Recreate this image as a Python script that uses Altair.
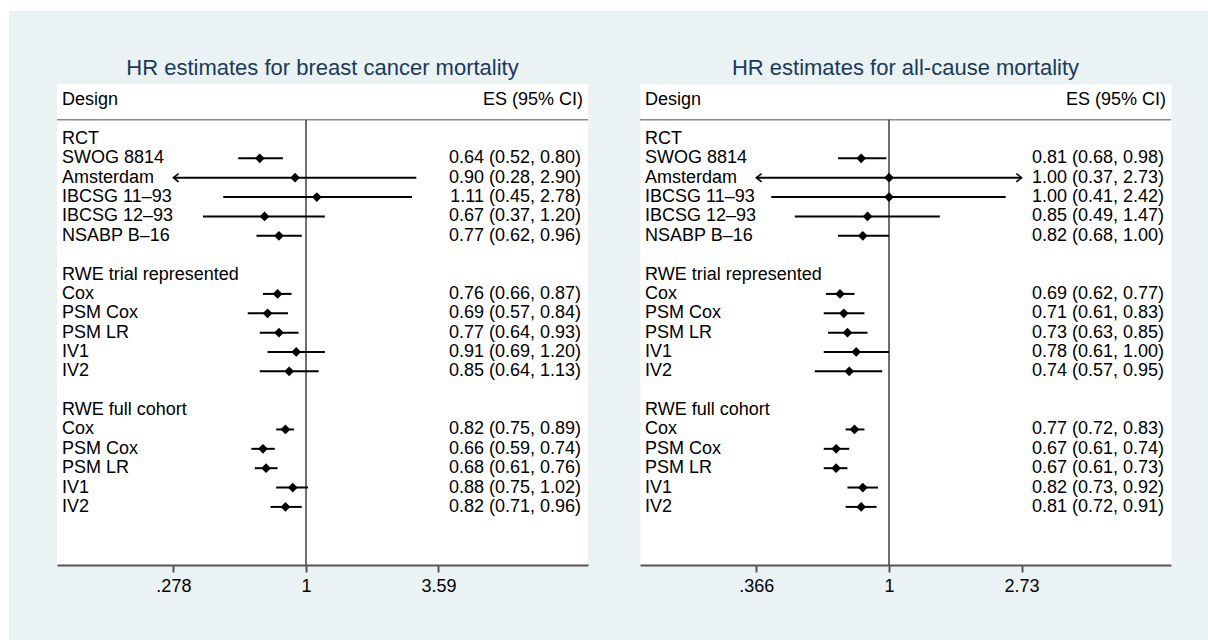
import altair as alt
import pandas as pd

# Row structure shared by both panels
groups = ["RCT", "RWE trial represented", "RWE full cohort"]
rct_names = ["SWOG 8814", "Amsterdam", "IBCSG 11–93", "IBCSG 12–93", "NSABP B–16"]
rwe_names = ["Cox", "PSM Cox", "PSM LR", "IV1", "IV2"]

# Breast cancer mortality: hazard ratios with 95% CI
bc_es = [0.64, 0.90, 1.11, 0.67, 0.77, 0.76, 0.69, 0.77, 0.91, 0.85, 0.82, 0.66, 0.68, 0.88, 0.82]
bc_lo = [0.52, 0.28, 0.45, 0.37, 0.62, 0.66, 0.57, 0.64, 0.69, 0.64, 0.75, 0.59, 0.61, 0.75, 0.71]
bc_hi = [0.80, 2.90, 2.78, 1.20, 0.96, 0.87, 0.84, 0.93, 1.20, 1.13, 0.89, 0.74, 0.76, 1.02, 0.96]
bc_ticks = [0.278, 1, 3.59]
bc_tick_text = [".278", "1", "3.59"]

# All-cause mortality: hazard ratios with 95% CI
ac_es = [0.81, 1.00, 1.00, 0.85, 0.82, 0.69, 0.71, 0.73, 0.78, 0.74, 0.77, 0.67, 0.67, 0.82, 0.81]
ac_lo = [0.68, 0.37, 0.41, 0.49, 0.68, 0.62, 0.61, 0.63, 0.61, 0.57, 0.72, 0.61, 0.61, 0.73, 0.72]
ac_hi = [0.98, 2.73, 2.42, 1.47, 1.00, 0.77, 0.83, 0.85, 1.00, 0.95, 0.83, 0.74, 0.73, 0.92, 0.91]
ac_ticks = [0.366, 1, 2.73]
ac_tick_text = [".366", "1", "2.73"]

titles = ["HR estimates for breast cancer mortality", "HR estimates for all-cause mortality"]

FONT = "Liberation Sans"
W, H = 531, 481          # each white plot panel
GAP = 52                 # space between the two panels
ORIGIN = (57, 84)        # top-left corner of the first panel on the page
PAGE = (1208, 640)
BG_INSET = (9, 11)       # graph region starts a little in from the page corner
TITLE_Y = -16            # panel title centre, above the panel
Y_DOMAIN = [-2.84, 22]
BG = "#eaf2f3"

# Layout of rows: heading, five studies, blank line, ...
study_names = []
study_rows = []
heading_rows = []
r = 0
for g, names in zip(groups, [rct_names, rwe_names, rwe_names]):
    heading_rows.append(r)
    r += 1
    for n in names:
        study_names.append(n)
        study_rows.append(r)
        r += 1
    r += 1

# Open arrowheads for intervals that run past the axis limits
LEFT_ARROW = "M 1 -0.8 L 0 0 L 1 0.8"
RIGHT_ARROW = "M -1 -0.8 L 0 0 L -1 0.8"


def label_expr(ticks, texts):
    expr = "''"
    for t, s in zip(reversed(ticks), reversed(texts)):
        expr = f"abs(datum.value - {t}) < 1e-6 ? '{s}' : ({expr})"
    return expr


def panel(title, es, lo, hi, ticks, tick_text, domain, graph_region=False):
    tmin, tmax = min(ticks), max(ticks)
    rows = []
    for name, row, e, l, h in zip(study_names, study_rows, es, lo, hi):
        arrow_l = l - 0.005 <= tmin
        arrow_r = h + 0.005 >= tmax
        rows.append({
            "name": name, "row": row, "es": e, "lo": l, "hi": h,
            "lo_c": tmin if arrow_l else l,
            "hi_c": tmax if arrow_r else h,
            "arrow_l": arrow_l, "arrow_r": arrow_r,
            "txt": f"{e:.2f} ({l:.2f}, {h:.2f})",
        })
    df = pd.DataFrame(rows)
    heads = pd.DataFrame({"name": groups, "row": heading_rows})
    one = pd.DataFrame({"k": [0]})

    xs = alt.Scale(type="log", domain=domain)
    xaxis = alt.Axis(values=ticks, labelExpr=label_expr(ticks, tick_text),
                     title=None, grid=False, zindex=1)
    ys = alt.Scale(domain=Y_DOMAIN, reverse=True)
    ynone = alt.Y("row:Q", scale=ys, axis=None)

    def X(field):
        return alt.X(field, scale=xs, axis=xaxis)

    base = alt.Chart(df)
    layers = []

    if graph_region:
        # light graph region behind both panels, then this panel's white plot area
        layers.append(alt.Chart(one).mark_rect(color=BG).encode(
            x=alt.value(BG_INSET[0] - ORIGIN[0]), x2=alt.value(PAGE[0] - ORIGIN[0]),
            y=alt.value(BG_INSET[1] - ORIGIN[1]), y2=alt.value(PAGE[1] - ORIGIN[1]),
        ))
        layers.append(alt.Chart(one).mark_rect(color="white").encode(
            x=alt.value(0), x2=alt.value(W), y=alt.value(0), y2=alt.value(H),
        ))

    title_t = alt.Chart(pd.DataFrame({"t": [title]})).mark_text(
        font=FONT, fontSize=22, color="#1a3a5c", align="center", baseline="middle"
    ).encode(x=alt.value(W / 2), y=alt.value(TITLE_Y), text="t:N")

    sep = alt.Chart(pd.DataFrame({"row": [-1]})).mark_rule(
        color="#8c8c8c", strokeWidth=1.5
    ).encode(y=ynone, x=alt.value(0), x2=alt.value(W))

    zero = alt.Chart(pd.DataFrame({"x": [1], "r0": [-1], "r1": [Y_DOMAIN[1]]})).mark_rule(
        color="#222222", strokeWidth=1.3
    ).encode(
        x=X("x:Q"),
        y=alt.Y("r0:Q", scale=ys, axis=None),
        y2="r1:Q",
    )

    ci = base.mark_rule(color="black", strokeWidth=2).encode(
        x=X("lo_c:Q"), x2="hi_c:Q", y=ynone,
    )

    dots = base.mark_point(shape="diamond", filled=True, color="black", size=95, opacity=1).encode(
        x=X("es:Q"), y=ynone
    )

    arr_l = base.transform_filter("datum.arrow_l").mark_point(
        shape=LEFT_ARROW, filled=False, color="black", strokeWidth=1.6, size=110, opacity=1
    ).encode(x=X("lo_c:Q"), y=ynone)

    arr_r = base.transform_filter("datum.arrow_r").mark_point(
        shape=RIGHT_ARROW, filled=False, color="black", strokeWidth=1.6, size=110, opacity=1
    ).encode(x=X("hi_c:Q"), y=ynone)

    txt_kw = dict(font=FONT, fontSize=18, color="black", baseline="middle")
    names_t = base.mark_text(align="left", **txt_kw).encode(
        x=alt.value(5), y=ynone, text="name:N"
    )
    heads_t = alt.Chart(heads).mark_text(align="left", **txt_kw).encode(
        x=alt.value(5), y=ynone, text="name:N"
    )
    vals_t = base.mark_text(align="right", **txt_kw).encode(
        x=alt.value(W - 7), y=ynone, text="txt:N"
    )
    hdr = pd.DataFrame({"row": [-2, -2], "t": ["Design", "ES (95% CI)"],
                        "a": ["l", "r"]})
    hdr_l = alt.Chart(hdr).transform_filter("datum.a == 'l'").mark_text(
        align="left", **txt_kw).encode(x=alt.value(5), y=ynone, text="t:N")
    hdr_r = alt.Chart(hdr).transform_filter("datum.a == 'r'").mark_text(
        align="right", **txt_kw).encode(x=alt.value(W - 5), y=ynone, text="t:N")

    layers += [title_t, sep, zero, ci, dots, arr_l, arr_r, heads_t, names_t, vals_t,
               hdr_l, hdr_r]
    return alt.layer(*layers).properties(width=W, height=H)


left = panel(titles[0], bc_es, bc_lo, bc_hi,
             bc_ticks, bc_tick_text, [0.0904, 15.21], graph_region=True)
right = panel(titles[1], ac_es, ac_lo, ac_hi,
              ac_ticks, ac_tick_text, [0.1516, 8.47])

chart = alt.hconcat(left, right, spacing=GAP, bounds="flush").properties(
    background="white",
    padding={"left": BG_INSET[0], "top": BG_INSET[1], "right": 0, "bottom": 0},
).configure_view(
    fill="white", strokeOpacity=0
).configure_axis(
    domainColor="#555555", domainWidth=2, tickColor="#555555", tickWidth=2,
    tickSize=7, labelFont=FONT, labelFontSize=18, labelColor="black",
    labelPadding=5,
)

chart.save("out.html", embed_options={"renderer": "svg", "actions": False})
